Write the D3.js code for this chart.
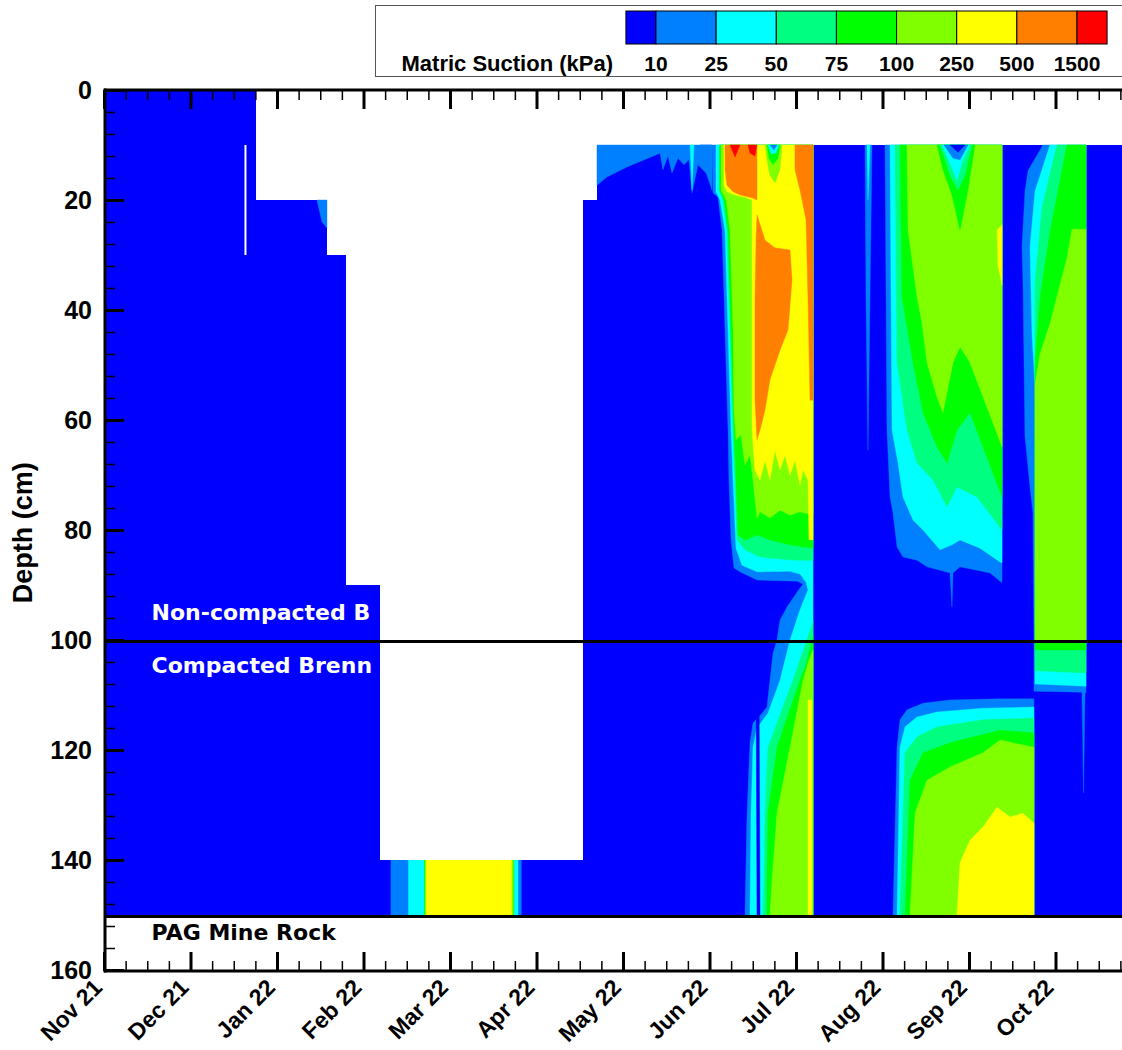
<!DOCTYPE html>
<html><head><meta charset="utf-8">
<script src="https://cdn.jsdelivr.net/npm/d3@7"></script>
<style>body{margin:0;background:#fff}svg{display:block}</style>
</head><body>
<svg id="chart" width="1122" height="1050"></svg>
<script>
// ---------- data (months since Nov 2021, depth in cm) ----------
const monthLabels = ["Nov 21","Dec 21","Jan 22","Feb 22","Mar 22","Apr 22","May 22","Jun 22","Jul 22","Aug 22","Sep 22","Oct 22"];
const depthTicks = [0,20,40,60,80,100,120,140,160];
const suctionBreaks = [10,25,50,75,100,250,500,1500];
const suctionColors = ["#0000ff","#0080ff","#00ffff","#00ff80","#00ff00","#80ff00","#ffff00","#ff8000","#ff0000"];

// measured extent of data [monthStart, monthEnd, topDepth, bottomDepth]
const dataExtent = [[0,1.757,0,150],[1.757,2.578,20,150],[2.578,2.798,30,150],[2.798,3.191,90,150],[3.191,5.538,140,150],[5.538,5.699,20,150],[5.699,12,10,150]];
const sensorGaps = [[1.624,1.647,10,30]];

// suction class bands [class, monthStart, monthEnd, topDepth, bottomDepth]
const febMarBands = [[1,3.314,4.827,140,150],[2,3.518,4.789,140,150],[3,3.699,4.745,140,150],[4,3.705,4.740,140,150],[5,3.711,4.734,140,150],[6,3.723,4.713,140,150]];

// suction class zones [class, [[month, depth], ...]]
const winterZones = [
  [1,[[2.462,20],[2.578,20],[2.578,25.1],[2.520,24]]]
];
const mayZones = [
  [1,[[5.699,10],[7.029,10],[7.029,18.2],[6.960,15.1],[6.867,13.6],[6.798,18.7],[6.763,12.7],[6.705,13.6],[6.636,12.4],[6.566,15.1],[6.520,12],[6.462,14.5],[6.428,11.5],[6.046,14],[5.815,15.8],[5.699,17.3]]],
  [2,[[6.775,10],[6.821,10],[6.798,18.2]]]
];
const junJulZones = [
  [1,[[6.890,10],[8.197,10],[8.197,150],[7.410,150],[7.434,131.5],[7.468,118.7],[7.503,115.1],[7.607,113.3],[7.665,112.2],[7.699,107.3],[7.734,102.4],[7.780,100],[7.815,96.4],[7.896,94],[8.012,91.3],[8.081,89.8],[8.012,89.3],[7.549,89.1],[7.353,87.6],[7.283,86.9],[7.249,81.8],[7.225,70.9],[7.214,61.8],[7.179,43.6],[7.145,25.5],[7.098,19.5],[7.040,18.7],[7.029,10]]],
  [2,[[7.075,10],[8.197,10],[8.197,150],[7.468,150],[7.480,131.5],[7.503,119.5],[7.549,116],[7.676,113.3],[7.815,107.3],[7.931,100],[8.046,94.5],[8.139,90.9],[8.116,89.5],[8.046,88],[7.931,87.5],[7.549,87.6],[7.376,86.4],[7.306,83.3],[7.272,70.9],[7.249,61.8],[7.214,43.6],[7.179,25.5],[7.121,20],[7.075,18.5]]],
  [3,[[7.110,10],[8.197,10],[8.197,85.5],[7.988,85.5],[7.584,84.9],[7.410,83.6],[7.318,81.8],[7.295,70.9],[7.272,61.8],[7.237,43.6],[7.202,25.5],[7.156,20],[7.110,18.2]]],
  [4,[[7.121,10],[8.197,10],[8.197,83.3],[7.931,82.7],[7.699,81.8],[7.549,80.9],[7.410,81.8],[7.329,80.9],[7.306,70.9],[7.283,61.8],[7.249,43.6],[7.214,25.5],[7.168,20],[7.121,18.2]]],
  [5,[[7.133,10],[8.197,10],[8.197,77.3],[8.046,76.7],[7.931,77.3],[7.815,76.4],[7.699,77.8],[7.584,76.7],[7.549,77.8],[7.503,70.9],[7.468,66.4],[7.410,68.2],[7.364,62.7],[7.306,63.6],[7.283,58.2],[7.272,43.6],[7.237,25.5],[7.191,20],[7.133,18.2]]],
  [6,[[7.168,10],[8.197,10],[8.197,81.8],[8.150,81.8],[8.139,70.9],[8.081,69.1],[8.046,71.8],[7.988,67.3],[7.931,70],[7.873,66.4],[7.815,69.1],[7.757,65.5],[7.699,70.9],[7.642,67.3],[7.584,70.9],[7.526,69.1],[7.491,61.8],[7.491,20],[7.410,19.5],[7.295,19.1],[7.202,18.5],[7.168,17.3]]],
  [7,[[7.179,10],[7.549,10],[7.549,20],[7.491,19.6],[7.353,19.1],[7.272,18.5],[7.202,17.3],[7.179,14.5]]],
  [7,[[7.549,22.7],[7.642,27.3],[7.757,28.7],[7.931,29.1],[7.954,34.5],[7.908,43.6],[7.815,47.3],[7.699,52.7],[7.642,58.2],[7.584,61.8],[7.549,63.6],[7.526,56.4],[7.526,38.2],[7.538,27.3]]],
  [7,[[7.988,10],[8.197,10],[8.197,56.4],[8.162,56.4],[8.139,38.2],[8.116,23.6],[8.046,18.2],[7.988,14.5]]],
  [8,[[7.237,10],[7.353,10],[7.295,12.2]]],
  [8,[[7.445,10],[7.549,10],[7.526,12],[7.468,11.5]]],
  [5,[[7.642,10],[7.838,10],[7.815,14.5],[7.757,16.9],[7.699,15.5],[7.665,12.7]]],
  [4,[[7.665,10],[7.815,10],[7.792,12.4],[7.734,13.6],[7.688,12.4]]],
  [2,[[7.676,10],[7.803,10],[7.769,11.5],[7.711,11.6]]],
  [1,[[7.699,10],[7.780,10],[7.746,10.9]]],
  [3,[[8.197,96.4],[8.197,150],[7.618,150],[7.630,143.6],[7.642,131.5],[7.676,119.5],[7.965,107.3],[8.185,97.3]]],
  [4,[[8.197,99.1],[8.197,150],[7.665,150],[7.665,143.6],[7.676,131.5],[7.780,119.5],[8.046,107.3],[8.116,104.5]]],
  [5,[[8.197,101.8],[8.197,150],[7.699,150],[7.723,143.6],[7.780,131.5],[7.931,119.5],[8.081,107.3],[8.150,103.6]]],
  [6,[[8.139,110.9],[8.185,110.9],[8.185,150],[8.139,150]]],
  [0,[[7.538,103.1],[7.572,103.1],[7.584,150],[7.549,150]]]
];
const augSepZones = [
  [1,[[8.798,10],[8.879,10],[8.855,38.2],[8.832,65.5],[8.809,38.2]]],
  [2,[[8.821,10],[8.855,10],[8.832,20]]],
  [1,[[9.029,10],[10.382,10],[10.382,89.6],[10.243,87.8],[10.092,87.3],[9.896,86.7],[9.815,87.8],[9.803,94],[9.780,87.8],[9.665,87.3],[9.514,86.7],[9.399,85.5],[9.237,84.9],[9.168,83.1],[9.121,76.9],[9.087,74],[9.052,61.8]]],
  [2,[[9.087,10],[10.382,10],[10.382,86],[10.358,85.8],[10.127,83.3],[9.896,81.8],[9.803,82.7],[9.665,83.6],[9.468,80],[9.353,78.2],[9.237,74],[9.179,67.8],[9.110,61.8]]],
  [3,[[9.145,10],[10.382,10],[10.382,80],[10.092,74],[9.861,72.2],[9.746,75.8],[9.584,70.9],[9.399,67.8],[9.283,61.8],[9.168,49.6]]],
  [4,[[9.202,10],[10.382,10],[10.382,74],[10.162,64.9],[10.012,58.7],[9.861,61.8],[9.746,67.8],[9.630,64.9],[9.468,58.7],[9.353,49.6],[9.225,37.6]]],
  [5,[[9.283,10],[10.382,10],[10.382,64.9],[10.162,55.8],[10.012,49.6],[9.896,46.7],[9.815,49.6],[9.699,58.7],[9.630,55.8],[9.514,49.6],[9.457,42.4],[9.399,37.6],[9.295,25.5]]],
  [4,[[9.630,10],[10.069,10],[9.988,18.2],[9.896,25.5],[9.803,19.1],[9.699,14.5]]],
  [3,[[9.665,10],[10.035,10],[9.954,15.5],[9.873,18.2],[9.780,15.5],[9.723,12.7]]],
  [2,[[9.688,10],[10.012,10],[9.931,12.7],[9.861,16.4],[9.780,13.3]]],
  [1,[[9.711,10],[9.988,10],[9.896,12.7],[9.815,12.4]]],
  [0,[[9.780,10],[9.954,10],[9.873,11.3]]],
  [6,[[10.324,25.5],[10.382,24.5],[10.382,35.5],[10.335,31.8]]]
];
const sepLowerZones = [
  [1,[[9.121,150],[9.168,119.5],[9.202,114.5],[9.283,112.7],[9.468,111.5],[9.780,110.9],[10.358,110.7],[10.751,110.7],[10.751,150]]],
  [2,[[9.168,150],[9.202,119.5],[9.260,115.8],[9.399,114],[9.630,113.1],[10.162,112.4],[10.751,112.2],[10.751,150]]],
  [3,[[9.202,150],[9.260,120.5],[9.399,117.6],[9.630,115.8],[10.162,114.5],[10.751,114.2],[10.751,150]]],
  [4,[[9.260,150],[9.318,125.5],[9.468,120.5],[9.780,118.7],[10.358,116.4],[10.751,116.9],[10.751,150]]],
  [5,[[9.318,150],[9.376,131.5],[9.514,125.5],[9.780,123.1],[10.162,120.5],[10.358,118.2],[10.751,119.5],[10.751,150]]],
  [6,[[9.861,150],[9.896,140.5],[10.012,136.4],[10.162,134],[10.324,130.4],[10.474,132.2],[10.624,131.5],[10.751,133.3],[10.751,150]]]
];
const octZones = [
  [1,[[10.855,10],[11.353,10],[11.353,109.6],[11.341,109.6],[11.325,127.8],[11.306,109.5],[10.751,109.3],[10.751,100],[10.740,76.9],[10.705,72.2],[10.647,62.9],[10.624,35.1],[10.613,28.5],[10.647,18.4],[10.682,14.7]]],
  [2,[[10.936,10],[11.353,10],[11.353,108.4],[10.763,108],[10.763,53.6],[10.728,44.4],[10.705,28.5],[10.763,18.4]]],
  [3,[[11.017,10],[11.353,10],[11.353,106],[10.763,105.6],[10.763,35.1],[10.844,21.3]]],
  [4,[[11.133,10],[11.353,10],[11.353,101.8],[10.763,101.8],[10.763,49.1],[10.821,37.8],[10.936,25.8]]],
  [5,[[11.191,25.3],[11.353,25.3],[11.353,100.5],[10.763,100.5],[10.763,53.6],[10.821,48],[10.936,42.5],[11.133,30.5]]]
];
const layerBoundaries = [100, 150];
const layerLabels = [["Non-compacted B",0.55,96.4,"#ffffff"],["Compacted Brenn",0.55,106,"#ffffff"],["PAG Mine Rock",0.55,154.6,"#000000"]];

// ---------- drawing ----------
const svg = d3.select("#chart");
const x = d3.scaleLinear().domain([0,12]).range([104,1142]);
const y = d3.scaleLinear().domain([0,160]).range([90,970]);
const color = d3.scaleOrdinal().domain(d3.range(suctionColors.length)).range(suctionColors);

svg.append("rect").attr("width",1122).attr("height",1050).attr("fill","#fff");
const defs = svg.append("defs");
defs.append("clipPath").attr("id","plotClip").append("rect")
  .attr("x",x(0)).attr("y",y(0)).attr("width",x(12)-x(0)).attr("height",y(160)-y(0));
defs.append("clipPath").attr("id","labelClip").append("rect")
  .attr("x",x(0)).attr("y",y(0)).attr("width",x(3.191)-x(0)).attr("height",y(160)-y(0));

const plot = svg.append("g").attr("clip-path","url(#plotClip)");
plot.selectAll("rect.ext").data(dataExtent).join("rect").attr("class","ext")
  .attr("x",d=>x(d[0])).attr("width",d=>x(d[1])-x(d[0]))
  .attr("y",d=>y(d[2])).attr("height",d=>y(d[3])-y(d[2]))
  .attr("fill",color(0)).attr("shape-rendering","crispEdges");

plot.selectAll("rect.band").data(febMarBands).join("rect").attr("class","band")
  .attr("x",d=>x(d[1])).attr("width",d=>x(d[2])-x(d[1]))
  .attr("y",d=>y(d[3])).attr("height",d=>y(d[4])-y(d[3]))
  .attr("fill",d=>color(d[0]));

const line = d3.line().x(p=>x(p[0])).y(p=>y(p[1])).curve(d3.curveLinearClosed);
const allZones = [].concat(winterZones, mayZones, junJulZones, augSepZones, sepLowerZones, octZones);
plot.selectAll("path.zone").data(allZones).join("path").attr("class","zone")
  .attr("d",d=>line(d[1])).attr("fill",d=>color(d[0]))
  .attr("stroke",d=>color(d[0])).attr("stroke-width",0.4);

plot.selectAll("rect.gap").data(sensorGaps).join("rect").attr("class","gap")
  .attr("x",d=>x(d[0])).attr("width",d=>x(d[1])-x(d[0]))
  .attr("y",d=>y(d[2])).attr("height",d=>y(d[3])-y(d[2])).attr("fill","#fff");

plot.selectAll("line.layer").data(layerBoundaries).join("line").attr("class","layer")
  .attr("x1",x(0)).attr("x2",x(12)).attr("y1",d=>y(d)+1.5).attr("y2",d=>y(d)+1.5)
  .attr("stroke","#000").attr("stroke-width",3);

const labG = svg.append("g");
labG.selectAll("text").data(layerLabels).join("text")
  .attr("clip-path",(d,i)=>i<2?"url(#labelClip)":null)
  .attr("x",d=>x(d[1])).attr("y",d=>y(d[2]))
  .attr("fill",d=>d[3]).attr("font-family","DejaVu Sans, sans-serif")
  .attr("font-weight","bold").attr("font-size",22).text(d=>d[0]);

// axes
const axisFont = "Liberation Sans, Arial, Helvetica, sans-serif";
function styleAxis(g, w){
  g.select(".domain").remove();
  g.selectAll(".tick line").attr("stroke","#000").attr("stroke-width",w);
  g.selectAll("text").attr("font-family",axisFont).attr("font-weight","bold").attr("fill","#000");
}
const minorDepth = d3.range(0,161,4).filter(v=>v%20!==0);
const majorMonths = d3.range(0,12);
const minorMonths = d3.range(0,12,0.25).filter(v=>v%1!==0);

const gLm = svg.append("g").attr("transform",`translate(${x(0)+1},0)`)
  .call(d3.axisLeft(y).tickValues(minorDepth).tickSize(-10).tickFormat(""));
styleAxis(gLm,1.5);
const gL = svg.append("g").attr("transform",`translate(${x(0)+1},0)`)
  .call(d3.axisLeft(y).tickValues(depthTicks).tickSize(-19).tickPadding(13));
styleAxis(gL,3);
gL.selectAll("text").attr("font-size",25);

const gTm = svg.append("g").attr("transform",`translate(0,${y(0)})`)
  .call(d3.axisTop(x).tickValues(minorMonths).tickSize(-10).tickFormat(""));
styleAxis(gTm,1.5);
const gT = svg.append("g").attr("transform",`translate(0,${y(0)})`)
  .call(d3.axisTop(x).tickValues(majorMonths).tickSize(-19).tickFormat(""));
styleAxis(gT,3);

const gBm = svg.append("g").attr("transform",`translate(0,${y(160)+1})`)
  .call(d3.axisBottom(x).tickValues(minorMonths).tickSize(-10).tickFormat(""));
styleAxis(gBm,1.5);
const gB = svg.append("g").attr("transform",`translate(0,${y(160)+1})`)
  .call(d3.axisBottom(x).tickValues(majorMonths).tickSize(-19).tickFormat(i=>monthLabels[i]));
styleAxis(gB,3);
gB.selectAll("text").attr("font-size",23).attr("text-anchor","end")
  .attr("x",0).attr("y",0).attr("dy",null)
  .attr("transform","translate(-1,18) rotate(-45)");

// frame lines
svg.append("line").attr("x1",x(0)+1).attr("x2",x(0)+1).attr("y1",y(0)-1.5).attr("y2",y(160)+2.5).attr("stroke","#000").attr("stroke-width",3);
svg.append("line").attr("x1",x(0)).attr("x2",x(12)).attr("y1",y(0)).attr("y2",y(0)).attr("stroke","#000").attr("stroke-width",3);
svg.append("line").attr("x1",x(0)).attr("x2",x(12)).attr("y1",y(160)+1).attr("y2",y(160)+1).attr("stroke","#000").attr("stroke-width",3);

svg.append("text").attr("transform",`translate(32,${y(80.5)}) rotate(-90)`)
  .attr("text-anchor","middle").attr("font-family",axisFont).attr("font-weight","bold")
  .attr("font-size",27).text("Depth (cm)");

// legend
const lg = svg.append("g");
lg.append("rect").attr("x",375.5).attr("y",5.5).attr("width",780).attr("height",71)
  .attr("fill","#fff").attr("stroke","#555").attr("stroke-width",1);
const legendX = d3.scaleLinear().domain([0,suctionBreaks.length-1]).range([656,1077]);
const nC = suctionColors.length;
const swStart = i => legendX(i===0 ? -0.5 : i-1);
const swEnd = i => legendX(i===nC-1 ? i-1.5 : i);
lg.selectAll("rect.sw").data(suctionColors).join("rect").attr("class","sw")
  .attr("x",(c,i)=>swStart(i))
  .attr("width",(c,i)=>Math.abs(swEnd(i)-swStart(i)) + (i===nC-1 ? 0 : 0))
  .attr("y",11).attr("height",33).attr("fill",c=>c).attr("stroke","#000").attr("stroke-width",1);
// last swatch spans half a class width past the final break
lg.select("rect.sw:last-of-type")
  .attr("x",legendX(suctionBreaks.length-1))
  .attr("width",legendX(suctionBreaks.length-0.5)-legendX(suctionBreaks.length-1));
lg.selectAll("text.br").data(suctionBreaks).join("text").attr("class","br")
  .attr("x",(d,i)=>legendX(i)).attr("y",71).attr("text-anchor","middle")
  .attr("font-family",axisFont).attr("font-weight","bold").attr("font-size",21).text(d=>d);
lg.append("text").attr("x",613).attr("y",71).attr("text-anchor","end")
  .attr("font-family",axisFont).attr("font-weight","bold").attr("font-size",22).text("Matric Suction (kPa)");
</script>
</body></html>
